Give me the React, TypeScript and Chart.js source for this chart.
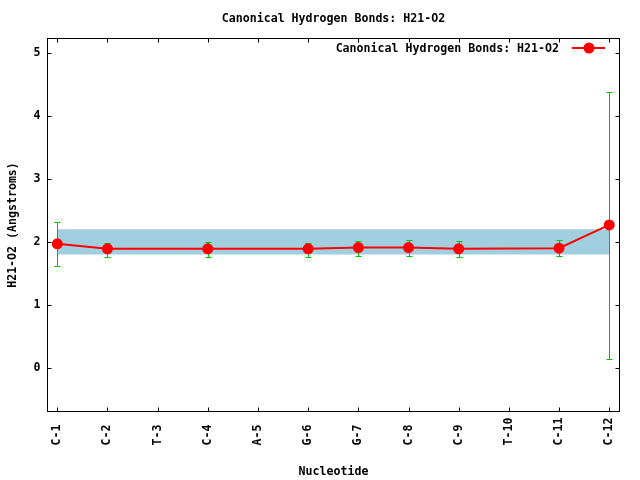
import React, { useEffect, useRef } from "react";
import { Chart, registerables } from "chart.js";

Chart.register(...registerables);

const categories = ["C-1", "C-2", "T-3", "C-4", "A-5", "G-6", "G-7", "C-8", "C-9", "T-10", "C-11", "C-12"];
const hbondValues: (number | null)[] = [1.97, 1.89, null, 1.89, null, 1.89, 1.91, 1.91, 1.89, null, 1.90, 2.27];
const errorLow: (number | null)[] = [1.61, 1.755, null, 1.755, null, 1.755, 1.77, 1.77, 1.755, null, 1.77, 0.13];
const errorHigh: (number | null)[] = [2.31, 1.99, null, 2.0, null, 1.99, 2.01, 2.025, 2.01, null, 2.025, 4.39];
const bandLow = 1.8;
const bandHigh = 2.2;
const bandStart = 0;
const bandEnd = 11;
const yTicks = [0, 1, 2, 3, 4, 5];
const chartTitle = "Canonical Hydrogen Bonds: H21-O2";
const seriesLabel = "Canonical Hydrogen Bonds: H21-O2";
const xTitle = "Nucleotide";
const yTitle = "H21-O2 (Angstroms)";

const FONT_FAMILY = "'DejaVu Sans Mono', 'Liberation Mono', monospace";
const FONT_SIZE = 11.6;
const RED = "#ff0000";
const GREEN = "rgb(0,192,0)";
const BAND = "rgb(161,207,223)";

const maxLabelLen = Math.max(...categories.map((c) => c.length));

const decorPlugin = {
  id: "gnuplotDecor",
  beforeDatasetDraw(chart: any, args: any) {
    if (args.index !== 0) return;
    const { ctx, scales } = chart;
    const x = scales.x;
    const y = scales.y;
    ctx.save();
    ctx.strokeStyle = GREEN;
    ctx.lineWidth = 1;
    errorLow.forEach((lo, i) => {
      const hi = errorHigh[i];
      if (lo == null || hi == null) return;
      const px = Math.round(x.getPixelForValue(i)) + 0.5;
      const yl = Math.round(y.getPixelForValue(lo)) + 0.5;
      const yh = Math.round(y.getPixelForValue(hi)) + 0.5;
      ctx.beginPath();
      ctx.moveTo(px, yl);
      ctx.lineTo(px, yh);
      ctx.moveTo(px - 3, yl);
      ctx.lineTo(px + 3, yl);
      ctx.moveTo(px - 3, yh);
      ctx.lineTo(px + 3, yh);
      ctx.stroke();
    });
    ctx.restore();
  },
  afterDraw(chart: any) {
    const { ctx, chartArea, scales } = chart;
    const x = scales.x;
    const y = scales.y;
    const { left, right, top, bottom } = chartArea;
    ctx.save();
    ctx.strokeStyle = "#000";
    ctx.lineWidth = 1;
    ctx.strokeRect(left, top, right - left, bottom - top);
    const tl = 4;
    ctx.beginPath();
    categories.forEach((_, i) => {
      const px = Math.round(x.getPixelForValue(i)) + 0.5;
      ctx.moveTo(px, bottom);
      ctx.lineTo(px, bottom - tl);
      ctx.moveTo(px, top);
      ctx.lineTo(px, top + tl);
    });
    yTicks.forEach((v) => {
      const py = Math.round(y.getPixelForValue(v)) + 0.5;
      ctx.moveTo(left, py);
      ctx.lineTo(left + tl, py);
      ctx.moveTo(right, py);
      ctx.lineTo(right - tl, py);
    });
    ctx.stroke();

    ctx.font = `bold ${FONT_SIZE}px ${FONT_FAMILY}`;
    ctx.fillStyle = "#000";
    ctx.textAlign = "center";
    ctx.textBaseline = "middle";
    ctx.fillText(chartTitle, (left + right) / 2, 19);

    const ly = 49;
    ctx.textAlign = "right";
    ctx.fillText(seriesLabel, 559, ly);
    ctx.strokeStyle = RED;
    ctx.lineWidth = 2;
    ctx.beginPath();
    ctx.moveTo(572, 48);
    ctx.lineTo(605, 48);
    ctx.stroke();
    ctx.fillStyle = RED;
    ctx.beginPath();
    ctx.arc(589, 48, 5.5, 0, Math.PI * 2);
    ctx.fill();
    ctx.restore();
  },
};

export default function App() {
  const canvasRef = useRef<HTMLCanvasElement | null>(null);

  useEffect(() => {
    if (!canvasRef.current) return;
    const font = { family: FONT_FAMILY, size: FONT_SIZE, weight: "bold" as const };
    const chart = new Chart(canvasRef.current, {
      type: "line",
      data: {
        datasets: [
          {
            label: seriesLabel,
            data: hbondValues.map((v, i) => ({ x: i, y: v as any })),
            borderColor: RED,
            backgroundColor: RED,
            borderWidth: 2,
            pointRadius: 5.5,
            pointBorderWidth: 0,
            pointBackgroundColor: RED,
            spanGaps: true,
            fill: false,
            tension: 0,
          },
          {
            label: "bandHigh",
            data: [
              { x: bandStart, y: bandHigh },
              { x: bandEnd, y: bandHigh },
            ],
            borderWidth: 0,
            borderColor: "rgba(0,0,0,0)",
            pointRadius: 0,
            backgroundColor: BAND,
            fill: "+1",
          },
          {
            label: "bandLow",
            data: [
              { x: bandStart, y: bandLow },
              { x: bandEnd, y: bandLow },
            ],
            borderWidth: 0,
            borderColor: "rgba(0,0,0,0)",
            pointRadius: 0,
            fill: false,
          },
        ],
      },
      options: {
        responsive: false,
        animation: false,
        devicePixelRatio: 1,
        layout: { padding: { top: 38.5, right: 20.5, left: 0, bottom: 0 } },
        plugins: {
          legend: { display: false },
          tooltip: { enabled: false },
          title: { display: false },
        },
        scales: {
          x: {
            type: "linear",
            min: -0.195,
            max: 11.205,
            grid: { display: false, drawTicks: false },
            border: { display: false },
            afterBuildTicks: (scale: any) => {
              scale.ticks = categories.map((_, i) => ({ value: i }));
            },
            afterFit: (scale: any) => {
              scale.height = 480 - 411.5;
            },
            ticks: {
              autoSkip: false,
              maxRotation: 90,
              minRotation: 90,
              padding: 6,
              color: "#000",
              font,
              callback: (v: any) => {
                const lab = categories[Math.round(Number(v))] ?? "";
                return lab.padEnd(maxLabelLen, " ");
              },
            },
            title: {
              display: true,
              text: xTitle,
              color: "#000",
              font,
              padding: { top: 0, bottom: 1.5 },
            },
          },
          y: {
            type: "linear",
            min: -0.697,
            max: 5.235,
            grid: { display: false, drawTicks: false },
            border: { display: false },
            afterBuildTicks: (scale: any) => {
              scale.ticks = yTicks.map((v) => ({ value: v }));
            },
            afterFit: (scale: any) => {
              scale.width = 47.5;
            },
            ticks: {
              padding: 7,
              color: "#000",
              font,
              callback: (v: any) => String(v),
            },
            title: {
              display: true,
              text: yTitle,
              color: "#000",
              font,
              padding: { top: 6.5, bottom: 0 },
            },
          },
        },
      },
      plugins: [decorPlugin],
    });
    return () => chart.destroy();
  }, []);

  return (
    <div style={{ position: "absolute", left: 0, top: 0, width: 640, height: 480, background: "#fff" }}>
      <canvas ref={canvasRef} width={640} height={480} />
    </div>
  );
}
